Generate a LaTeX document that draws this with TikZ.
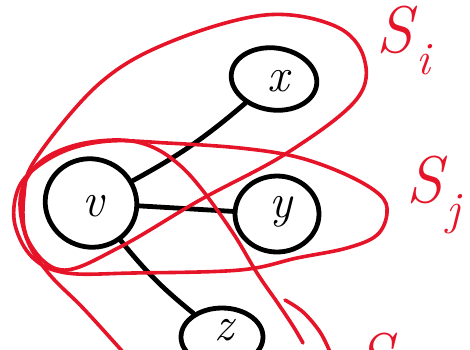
\documentclass[tikz,border=0pt]{standalone}
\usepackage{fontspec}
\usetikzlibrary{shapes.geometric}
\definecolor{pen}{RGB}{230,20,40}
\begin{document}
\begin{tikzpicture}[x=1pt,y=-1pt,
  vert/.style={draw=black,line width=4.8pt,ellipse,inner sep=0pt},
  edge/.style={draw=black,line width=4.8pt,line cap=round},
  setline/.style={draw=pen,line width=3.6pt,line cap=round,line join=round},
  vlab/.style={font=\fontsize{48}{48}\selectfont\itshape},
  setlab/.style={text=pen,font=\fontsize{66}{66}\selectfont\itshape}]
\useasboundingbox (0,0) rectangle (470,349);
\clip (0,0) rectangle (470,349);
% nodes
\node[vert,minimum width=92pt,minimum height=88pt,rotate=-20] (v) at (91,203) {};
\node[vert,minimum width=86pt,minimum height=62pt,rotate=-8] (x) at (274,79) {};
\node[vert,minimum width=84pt,minimum height=76pt] (y) at (277,214) {};
\node[vert,minimum width=82pt,minimum height=58pt] (z) at (222,337) {};
\node[vlab] (lv) at ([xshift=2pt,yshift=-3pt]v.center) {v};
\node[vlab] (lx) at ([xshift=4pt,yshift=-2pt]x.center) {x};
\node[vlab] (ly) at ([xshift=4pt,yshift=2pt]y.center) {y};
\node[vlab] (lz) at (224,330) {z};
% edges
\draw[edge] (v) to[bend right=6] (x);
\draw[edge] (v) -- (y);
\draw[edge] (v) to[bend right=6] (z);
% set S_i
\draw[setline] plot[smooth cycle,tension=0.6] coordinates {
  (37,157) (100,83) (170,42) (265,15) (335,26) (364,58) (356,100)
  (287,153) (200,200) (120,247) (62,270) (28,240) (24,195)};
% set S_j
\draw[setline] plot[smooth cycle,tension=0.6] coordinates {
  (33,170) (67,150) (110,141) (167,143) (240,148) (297,157) (347,175)
  (380,195) (387,213) (377,235) (347,248) (297,258) (240,270) (133,273)
  (67,273) (33,258) (15,225) (17,192)};
% set S_k
\draw[setline] plot[smooth,tension=0.6] coordinates {
  (123,352) (83,308) (50,275) (28,242) (20,205) (27,178) (47,157) (80,144)
  (120,140) (150,146) (176,162) (200,187) (233,233) (257,273) (277,302)
  (293,326) (303,343)};
\draw[setline] plot[smooth,tension=0.6] coordinates {
  (285,300) (303,312) (320,332) (330,352)};
% labels
\node[setlab,anchor=north west,inner sep=0pt] (si) at (376,6) {S\kern4pt\textsubscript{i}};
\node[setlab,anchor=north west,inner sep=0pt] (sj) at (406,156) {S\kern4pt\textsubscript{j}};
\node[setlab,anchor=north west,inner sep=0pt] (sk) at (356,333) {S};
\end{tikzpicture}
\end{document}
